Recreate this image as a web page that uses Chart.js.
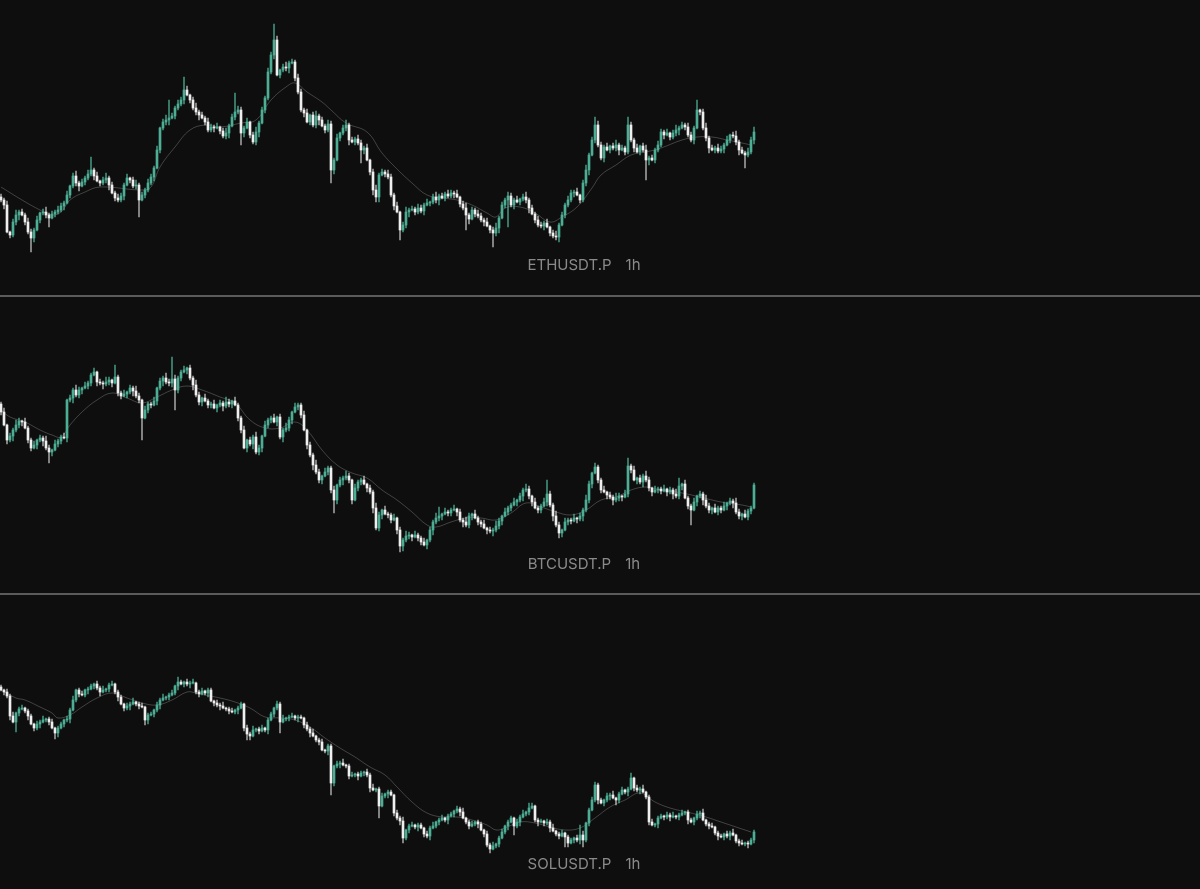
<!DOCTYPE html>
<html>
<head>
<meta charset="utf-8">
<script src="https://cdn.jsdelivr.net/npm/chart.js@4.4.1/dist/chart.umd.min.js"></script>
<style>
  html, body { margin: 0; padding: 0; background: #0e0e0e; }
  body { width: 1200px; height: 889px; position: relative; overflow: hidden; font-family: Inter, "Liberation Sans", sans-serif; }
  .pane { position: absolute; left: 0; width: 1200px; }
  .sep { position: absolute; left: 0; width: 1200px; height: 2px; background: #5b5b5b; }
  .label { position: absolute; left: 0; width: 1168px; text-align: center; color: #8a8a8a; font-size: 15px; line-height: 18px; }
  .label span { margin-left: 14px; }
</style>
</head>
<body>
<div class="pane" style="top:0;height:295px"><canvas id="eth"></canvas></div>
<div class="sep" style="top:295px"></div>
<div class="pane" style="top:297px;height:296px"><canvas id="btc"></canvas></div>
<div class="sep" style="top:593px"></div>
<div class="pane" style="top:595px;height:294px"><canvas id="sol"></canvas></div>
<div class="label" style="top:256px">ETHUSDT.P<span>1h</span></div>
<div class="label" style="top:555px">BTCUSDT.P<span>1h</span></div>
<div class="label" style="top:855px">SOLUSDT.P<span>1h</span></div>

<script>
//----------------------------ETHUSDT.P 1h
var ethOpen = [
2503,2500,2495,2468,2465,2478,2485,2488,2485,2478,
2468,2462,2470,2480,2487,2488,2485,2482,2486,2488,
2490,2494,2497,2505,2514,2524,2517,2514,2518,2522,
2526,2530,2524,2519,2517,2520,2522,2515,2507,2502,
2500,2504,2515,2522,2520,2514,2515,2500,2505,2510,
2517,2523,2532,2550,2572,2578,2580,2582,2584,2592,
2596,2600,2610,2605,2600,2592,2588,2585,2582,2578,
2570,2573,2572,2573,2569,2564,2567,2574,2583,2588,
2590,2567,2572,2578,2565,2558,2568,2577,2590,2602,
2628,2645,2660,2625,2630,2633,2632,2637,2638,2622,
2608,2590,2587,2578,2585,2575,2584,2580,2574,2570,
2576,2530,2540,2562,2567,2572,2575,2560,2558,2561,
2557,2550,2552,2540,2528,2510,2503,2525,2528,2526,
2523,2505,2494,2488,2470,2475,2488,2490,2491,2488,
2492,2489,2495,2497,2498,2503,2500,2504,2502,2506,
2504,2507,2506,2503,2496,2492,2485,2481,2490,2486,
2484,2480,2478,2474,2470,2467,2472,2482,2495,2500,
2504,2495,2500,2498,2501,2503,2500,2492,2486,2480,
2475,2474,2477,2473,2467,2464,2463,2475,2485,2495,
2500,2507,2508,2505,2500,2517,2530,2545,2560,2575,
2555,2542,2553,2550,2554,2552,2555,2550,2552,2548,
2575,2560,2552,2548,2554,2550,2540,2542,2540,2550,
2555,2568,2565,2567,2563,2567,2570,2572,2575,2573,
2565,2560,2572,2590,2588,2572,2562,2552,2550,2552,
2549,2551,2555,2560,2565,2564,2558,2550,2547,2545,
2548,2560];
var ethHigh = [
2506,2502,2499,2469,2481,2490,2490,2491,2487,2482,
2471,2472,2484,2488,2491,2493,2487,2489,2490,2494,
2497,2499,2509,2515,2527,2529,2519,2521,2524,2530,
2543,2532,2528,2520,2523,2527,2524,2518,2509,2506,
2507,2517,2526,2523,2523,2520,2517,2508,2512,2521,
2526,2534,2554,2573,2581,2585,2600,2587,2594,2600,
2603,2623,2614,2606,2603,2597,2590,2588,2584,2582,
2576,2575,2577,2574,2572,2572,2576,2586,2607,2594,
2593,2574,2582,2579,2568,2573,2579,2593,2604,2632,
2648,2676,2664,2631,2636,2638,2639,2641,2640,2626,
2611,2592,2591,2586,2588,2589,2586,2583,2576,2580,
2579,2542,2566,2568,2575,2580,2577,2563,2563,2565,
2560,2554,2556,2541,2531,2515,2527,2531,2530,2530,
2526,2507,2498,2489,2478,2493,2492,2494,2493,2496,
2495,2497,2501,2499,2506,2508,2506,2507,2508,2510,
2510,2509,2510,2504,2499,2497,2487,2493,2492,2490,
2487,2482,2482,2475,2473,2477,2484,2498,2502,2508,
2507,2502,2504,2502,2506,2508,2502,2495,2488,2484,
2478,2479,2481,2474,2470,2469,2477,2488,2497,2504,
2510,2510,2512,2506,2520,2535,2547,2563,2583,2579,
2558,2555,2557,2555,2557,2560,2557,2555,2554,2583,
2578,2562,2556,2555,2557,2555,2544,2545,2552,2559,
2571,2570,2571,2568,2570,2575,2574,2578,2577,2577,
2568,2574,2600,2591,2591,2577,2564,2555,2554,2556,
2554,2557,2564,2566,2568,2569,2560,2553,2549,2552,
2563,2573];
var ethLow = [
2498,2491,2467,2462,2463,2475,2480,2484,2475,2466,
2448,2458,2469,2477,2485,2482,2473,2481,2483,2486,
2488,2490,2496,2502,2512,2514,2509,2513,2515,2520,
2524,2520,2518,2514,2515,2517,2510,2506,2499,2498,
2498,2500,2514,2517,2512,2511,2483,2499,2502,2508,
2515,2519,2531,2547,2570,2575,2575,2581,2581,2590,
2594,2596,2604,2597,2590,2585,2580,2581,2575,2568,
2568,2568,2571,2566,2562,2561,2562,2573,2580,2586,
2555,2563,2571,2562,2556,2555,2563,2576,2587,2600,
2626,2641,2624,2622,2628,2629,2627,2636,2619,2606,
2588,2583,2577,2575,2573,2572,2575,2573,2567,2568,
2517,2526,2539,2559,2565,2569,2555,2557,2555,2555,
2537,2546,2539,2525,2505,2498,2498,2524,2523,2521,
2503,2490,2487,2460,2468,2472,2483,2489,2485,2486,
2487,2485,2494,2494,2496,2497,2495,2501,2499,2502,
2502,2502,2502,2493,2490,2470,2476,2480,2483,2482,
2478,2474,2473,2467,2453,2464,2467,2481,2492,2473,
2493,2491,2497,2495,2499,2497,2487,2485,2477,2473,
2472,2470,2472,2464,2462,2460,2458,2474,2482,2493,
2498,2503,2504,2497,2498,2514,2525,2544,2557,2553,
2540,2538,2549,2547,2550,2549,2545,2549,2545,2546,
2558,2548,2547,2545,2548,2520,2535,2539,2537,2548,
2553,2561,2564,2560,2561,2564,2565,2571,2570,2563,
2558,2556,2571,2585,2570,2559,2547,2549,2547,2547,
2547,2547,2554,2557,2562,2555,2545,2546,2532,2543,
2546,2556];
var ethClose = [
2500,2495,2468,2465,2478,2485,2488,2485,2478,2468,
2462,2470,2480,2487,2488,2485,2482,2486,2488,2490,
2494,2497,2505,2514,2524,2517,2514,2518,2522,2526,
2530,2524,2519,2517,2520,2522,2515,2507,2502,2500,
2504,2515,2522,2520,2514,2515,2500,2505,2510,2517,
2523,2532,2550,2572,2578,2580,2582,2584,2592,2596,
2600,2610,2605,2600,2592,2588,2585,2582,2578,2570,
2573,2572,2573,2569,2564,2567,2574,2583,2588,2590,
2567,2572,2578,2565,2558,2568,2577,2590,2602,2628,
2645,2660,2625,2630,2633,2632,2637,2638,2622,2608,
2590,2587,2578,2585,2575,2584,2580,2574,2570,2576,
2530,2540,2562,2567,2572,2575,2560,2558,2561,2557,
2550,2552,2540,2528,2510,2503,2525,2528,2526,2523,
2505,2494,2488,2470,2475,2488,2490,2491,2488,2492,
2489,2495,2497,2498,2503,2500,2504,2502,2506,2504,
2507,2506,2503,2496,2492,2485,2481,2490,2486,2484,
2480,2478,2474,2470,2467,2472,2482,2495,2500,2504,
2495,2500,2498,2501,2503,2500,2492,2486,2480,2475,
2474,2477,2473,2467,2464,2463,2475,2485,2495,2500,
2507,2508,2505,2500,2517,2530,2545,2560,2575,2555,
2542,2553,2550,2554,2552,2555,2550,2552,2548,2575,
2560,2552,2548,2554,2550,2540,2542,2540,2550,2555,
2568,2565,2567,2563,2567,2570,2572,2575,2573,2565,
2560,2572,2590,2588,2572,2562,2552,2550,2552,2549,
2551,2555,2560,2565,2564,2558,2550,2547,2545,2548,
2560,2568];
var ethMaIdx = [0,7,13,17,20,23,28,33,47,50,53,58,63,68,73,80,85,90,95,98,102,107,110,115,122,127,132,137,142,147,152,157,162,165,168,173,178,183,187,192,197,200,205,210,215,220,227,232,237,242,247,250];
var ethMaVal = [2513,2500,2490,2485,2488,2500,2508,2513,2510,2513,2533,2553,2570,2575,2573,2577,2580,2600,2613,2617,2608,2598,2590,2577,2568,2547,2531,2517,2505,2502,2500,2495,2487,2483,2492,2493,2487,2478,2483,2493,2512,2525,2535,2545,2548,2552,2560,2563,2563,2560,2557,2555];

//----------------------------BTCUSDT.P 1h
var btcOpen = [
65560,65480,65350,65200,65240,65300,65350,65390,65380,65320,
65200,65120,65150,65200,65220,65190,65120,65080,65100,65160,
65190,65230,65220,65600,65620,65700,65650,65700,65720,65740,
65770,65850,65880,65780,65770,65760,65780,65800,65770,65830,
65670,65640,65660,65680,65720,65690,65640,65600,65420,65500,
65560,65550,65590,65720,65790,65820,65780,65770,65810,65700,
65820,65880,65900,65920,65820,65750,65650,65580,65620,65590,
65550,65560,65520,65550,65570,65540,65580,65560,65590,65550,
65420,65300,65120,65200,65160,65230,65080,65120,65240,65350,
65400,65420,65380,65430,65230,65300,65320,65400,65480,65530,
65550,65450,65300,65150,65050,64950,64880,64800,64840,64880,
64920,64700,64600,64750,64800,64820,64840,64800,64600,64720,
64780,64800,64760,64720,64680,64520,64320,64450,64500,64460,
64450,64400,64420,64300,64140,64200,64240,64250,64230,64250,
64220,64180,64150,64200,64300,64380,64420,64440,64460,64480,
64470,64500,64510,64480,64400,64380,64350,64440,64460,64420,
64380,64360,64320,64300,64290,64300,64340,64390,64440,64480,
64520,64550,64580,64600,64640,64700,64710,64640,64580,64520,
64500,64540,64580,64660,64550,64440,64350,64270,64300,64380,
64400,64390,64420,64410,64440,64500,64600,64760,64870,64930,
64800,64700,64680,64650,64630,64600,64620,64640,64630,64660,
64940,64900,64800,64820,64780,64840,64800,64720,64680,64700,
64710,64690,64710,64680,64700,64660,64640,64740,64760,64620,
64540,64500,64580,64640,64660,64600,64540,64500,64520,64480,
64520,64500,64540,64570,64590,64570,64480,64440,64460,64430,
64490,64520];
var btcHigh = [
65580,65520,65360,65270,65320,65400,65420,65400,65420,65340,
65220,65190,65210,65250,65240,65240,65150,65110,65200,65210,
65250,65270,65610,65650,65720,65750,65730,65730,65780,65790,
65870,65920,65890,65810,65790,65830,65830,65810,65950,65850,
65690,65700,65690,65750,65740,65740,65670,65610,65540,65580,
65580,65630,65730,65820,65840,65870,65810,66030,65850,65840,
65900,65940,65930,65950,65840,65800,65680,65630,65660,65610,
65580,65600,65560,65600,65590,65630,65610,65600,65630,65570,
65440,65340,65210,65230,65250,65280,65150,65250,65390,65420,
65440,65460,65440,65460,65320,65370,65430,65490,65570,65570,
65570,65490,65310,65180,65070,65000,64910,64850,64920,64940,
64940,64740,64760,64830,64840,64890,64870,64810,64760,64800,
64820,64840,64770,64750,64700,64570,64480,64510,64540,64480,
64470,64460,64430,64330,64220,64290,64280,64260,64290,64270,
64240,64220,64210,64330,64400,64470,64530,64470,64520,64500,
64520,64550,64520,64510,64420,64430,64470,64470,64500,64440,
64400,64400,64330,64330,64320,64390,64420,64450,64520,64540,
64570,64620,64610,64670,64720,64760,64740,64650,64620,64540,
64560,64620,64800,64690,64570,64490,64380,64310,64420,64420,
64420,64460,64430,64470,64520,64650,64790,64880,64970,64950,
64820,64740,64690,64680,64650,64670,64670,64650,64700,65020,
64960,64940,64830,64850,64860,64890,64830,64730,64740,64730,
64730,64750,64720,64730,64720,64710,64820,64770,64800,64640,
64560,64620,64650,64690,64680,64650,64570,64530,64560,64540,
64540,64580,64580,64620,64610,64620,64510,64470,64500,64510,
64540,64770];
var btcLow = [
65450,65340,65160,65180,65190,65280,65320,65340,65310,65170,
65090,65110,65110,65180,65140,65100,64970,65040,65090,65130,
65160,65210,65180,65580,65570,65630,65620,65660,65710,65710,
65740,65840,65740,65750,65710,65740,65750,65730,65760,65640,
65610,65630,65620,65660,65640,65620,65570,65200,65410,65470,
65520,65540,65550,65700,65740,65760,65740,65730,65500,65670,
65790,65870,65860,65800,65700,65630,65550,65540,65580,65520,
65520,65510,65480,65530,65490,65520,65530,65520,65540,65390,
65270,65110,65080,65140,65110,65060,65050,65080,65230,65320,
65370,65370,65340,65210,65180,65280,65290,65360,65470,65500,
65420,65290,65110,65030,64900,64860,64770,64760,64830,64850,
64670,64470,64560,64730,64750,64800,64770,64560,64590,64690,
64750,64750,64680,64660,64470,64300,64290,64410,64450,64420,
64370,64390,64260,64080,64090,64180,64210,64190,64220,64190,
64150,64140,64110,64180,64250,64360,64390,64400,64450,64440,
64440,64490,64440,64380,64330,64330,64320,64400,64410,64350,
64330,64310,64260,64270,64240,64280,64310,64350,64430,64450,
64490,64540,64540,64580,64590,64680,64610,64540,64510,64470,
64470,64530,64540,64530,64390,64330,64220,64230,64290,64350,
64360,64380,64370,64390,64390,64480,64570,64720,64860,64770,
64670,64670,64610,64610,64550,64580,64590,64590,64620,64630,
64870,64790,64760,64760,64730,64780,64690,64640,64670,64670,
64660,64680,64640,64660,64610,64620,64610,64700,64610,64510,
64350,64490,64540,64620,64550,64520,64470,64460,64470,64450,
64470,64490,64500,64550,64520,64460,64410,64400,64420,64400,
64460,64510];
var btcClose = [
65480,65350,65200,65240,65300,65350,65390,65380,65320,65200,
65120,65150,65200,65220,65190,65120,65080,65100,65160,65190,
65230,65220,65600,65620,65700,65650,65700,65720,65740,65770,
65850,65880,65780,65770,65760,65780,65800,65770,65830,65670,
65640,65660,65680,65720,65690,65640,65600,65420,65500,65560,
65550,65590,65720,65790,65820,65780,65770,65810,65700,65820,
65880,65900,65920,65820,65750,65650,65580,65620,65590,65550,
65560,65520,65550,65570,65540,65580,65560,65590,65550,65420,
65300,65120,65200,65160,65230,65080,65120,65240,65350,65400,
65420,65380,65430,65230,65300,65320,65400,65480,65530,65550,
65450,65300,65150,65050,64950,64880,64800,64840,64880,64920,
64700,64600,64750,64800,64820,64840,64800,64600,64720,64780,
64800,64760,64720,64680,64520,64320,64450,64500,64460,64450,
64400,64420,64300,64140,64200,64240,64250,64230,64250,64220,
64180,64150,64200,64300,64380,64420,64440,64460,64480,64470,
64500,64510,64480,64400,64380,64350,64440,64460,64420,64380,
64360,64320,64300,64290,64300,64340,64390,64440,64480,64520,
64550,64580,64600,64640,64700,64710,64640,64580,64520,64500,
64540,64580,64660,64550,64440,64350,64270,64300,64380,64400,
64390,64420,64410,64440,64500,64600,64760,64870,64930,64800,
64700,64680,64650,64630,64600,64620,64640,64630,64660,64940,
64900,64800,64820,64780,64840,64800,64720,64680,64700,64710,
64690,64710,64680,64700,64660,64640,64740,64760,64620,64540,
64500,64580,64640,64660,64600,64540,64500,64520,64480,64520,
64500,64540,64570,64590,64570,64480,64440,64460,64430,64490,
64520,64750];
var btcMaIdx = [0,3,8,13,17,20,23,27,32,37,42,47,52,57,62,67,73,78,83,88,93,98,102,107,112,117,122,127,132,137,142,145,150,155,160,165,170,175,180,185,190,195,200,205,210,215,220,227,233,240,247,250];
var btcMaVal = [65500,65430,65380,65300,65250,65230,65350,65480,65600,65670,65620,65570,65630,65700,65740,65700,65630,65570,65400,65320,65320,65380,65300,65100,64950,64870,64820,64700,64600,64480,64350,64330,64380,64420,64420,64400,64470,64570,64530,64480,64450,64500,64600,64630,64700,64730,64700,64670,64630,64580,64550,64530];

//----------------------------SOLUSDT.P 1h
var solOpen = [
146.3,146.0,145.8,145.4,143.4,142.8,143.7,144.1,144.2,143.9,
143.4,142.6,142.2,142.6,142.8,143.0,143.1,142.8,142.2,141.7,
142.2,142.6,143.0,143.1,144.0,145.0,146.0,145.6,145.5,146.0,
146.1,146.4,146.6,146.2,145.8,146.0,146.1,146.5,146.6,145.8,
145.3,144.6,144.2,144.4,144.6,144.8,144.6,144.4,144.3,143.0,
143.5,143.6,144.0,144.5,145.0,145.2,145.3,145.5,145.7,146.4,
146.8,146.6,146.8,146.6,146.7,146.7,145.8,145.6,145.9,145.7,
146.0,144.9,144.7,144.5,144.4,144.2,144.1,143.9,143.8,144.0,
144.2,144.6,142.2,141.6,141.4,142.0,142.1,141.9,142.2,142.0,
143.0,143.6,144.2,144.6,142.8,143.1,143.2,143.3,143.4,143.2,
143.3,143.2,142.5,142.1,141.7,141.4,141.0,140.8,140.0,139.9,
140.4,136.7,138.4,138.6,138.7,138.5,138.4,137.4,137.5,137.6,
137.4,137.7,137.8,137.5,136.2,136.0,136.1,134.4,135.4,135.6,
135.8,135.5,133.7,133.2,132.9,131.2,132.0,132.4,132.5,132.3,
132.5,132.2,131.6,131.4,132.2,132.4,132.8,133.0,133.2,133.0,
133.4,133.6,133.9,134.1,133.8,133.2,132.8,132.4,132.6,132.8,
132.6,132.0,131.6,130.5,130.1,130.4,130.6,131.2,131.8,132.4,
132.8,133.2,132.4,132.8,133.3,133.6,133.8,134.2,134.4,133.0,
132.8,132.9,132.7,132.8,132.2,131.9,131.6,131.4,131.7,131.3,
130.7,131.0,131.2,131.0,131.5,131.0,132.7,134.0,135.0,136.5,
135.0,134.7,135.0,135.4,135.5,135.2,135.0,135.6,136.0,135.8,
136.1,137.2,136.2,136.0,136.1,135.8,135.3,132.8,132.5,132.6,
133.2,133.4,133.3,133.5,133.3,133.4,133.3,133.5,133.7,133.8,
133.0,132.8,133.2,133.6,133.7,133.0,132.6,132.4,132.3,131.7,
131.4,131.3,131.6,131.4,131.7,131.5,130.9,130.7,130.6,130.7,
130.6,131.0];
var solHigh = [
146.5,146.1,146.1,145.6,143.8,143.8,144.3,144.5,144.3,144.1,
143.6,142.7,142.9,143.0,143.4,143.2,143.3,143.1,142.3,142.4,
142.8,143.1,143.4,144.2,145.4,146.1,146.2,145.9,146.1,146.3,
146.6,146.7,146.9,146.4,146.4,146.2,146.7,146.9,146.7,146.0,
145.5,144.7,144.7,144.8,145.2,144.9,144.8,144.7,144.4,143.7,
143.8,144.1,144.8,145.2,145.6,145.4,145.7,146.0,146.5,147.3,
147.0,146.9,147.1,146.9,147.1,146.8,146.0,146.2,146.0,146.2,
146.2,145.0,145.0,144.7,144.8,144.3,144.3,144.2,144.1,144.4,
144.8,144.7,142.5,141.8,142.4,142.2,142.3,142.5,142.3,143.2,
143.8,144.3,144.9,144.8,143.5,143.3,143.5,143.7,143.5,143.5,
143.5,143.3,142.8,142.3,142.1,141.5,141.2,141.1,140.1,140.6,
140.6,138.5,138.9,138.9,139.1,138.6,138.6,137.8,137.7,137.8,
137.9,137.9,138.1,137.7,136.6,136.2,136.3,135.7,135.7,136.0,
136.0,135.6,134.0,133.4,133.3,132.1,132.6,132.8,132.6,132.7,
132.7,132.3,131.9,132.4,132.8,132.9,133.2,133.5,133.3,133.6,
133.8,134.0,134.4,134.3,134.2,133.3,133.0,132.9,132.9,133.0,
132.8,132.1,131.9,130.7,130.8,130.7,131.4,132.1,132.5,133.0,
133.4,133.3,133.1,133.5,134.0,133.9,134.7,134.7,134.5,133.2,
133.1,133.0,133.1,133.0,132.6,132.0,131.8,132.0,131.8,131.5,
131.2,131.3,131.5,132.5,131.9,132.8,134.2,135.3,136.8,136.7,
135.2,135.1,135.7,135.7,135.9,135.3,135.8,136.3,136.1,136.3,
137.7,137.3,136.5,136.3,136.5,135.9,135.5,133.1,132.7,133.4,
133.6,133.5,133.8,133.7,133.8,133.5,133.7,134.0,133.9,134.0,
133.2,133.3,133.9,133.9,134.1,133.1,132.8,132.7,132.4,131.9,
131.6,131.7,131.9,131.9,132.1,131.6,131.1,131.0,130.8,130.9,
131.2,132.0];
var solLow = [
145.9,145.5,145.2,143.0,142.7,141.8,143.4,144.0,143.7,143.0,
142.5,141.9,142.0,142.2,142.7,142.8,142.5,142.1,141.1,141.3,
142.1,142.3,142.8,142.7,143.9,144.8,145.3,145.4,145.3,145.6,
146.0,146.1,146.0,145.4,145.7,145.8,145.8,146.4,145.6,144.9,
144.5,143.9,144.0,144.0,144.5,144.4,144.1,144.2,142.5,142.6,
143.4,143.3,143.8,144.1,144.9,145.0,145.0,145.4,145.5,146.0,
146.5,146.3,146.4,146.2,146.6,145.6,145.3,145.5,145.5,145.3,
144.8,144.4,144.3,144.0,144.1,143.9,143.6,143.7,143.6,143.6,
144.1,141.9,141.0,141.0,141.3,141.8,141.6,141.8,141.8,141.6,
142.9,143.3,144.0,141.7,142.7,142.9,142.9,143.2,143.0,142.8,
143.1,142.2,141.9,141.3,141.3,140.8,140.5,139.9,139.7,139.5,
135.5,136.4,138.2,138.2,138.4,138.2,137.1,137.3,137.3,137.0,
137.3,137.4,137.3,135.8,135.9,135.8,133.2,134.3,135.2,135.2,
135.4,133.4,133.0,132.5,130.7,131.0,131.7,132.3,132.1,131.9,
132.1,131.3,131.2,131.0,132.1,132.2,132.5,132.9,132.8,132.6,
133.3,133.3,133.7,133.4,133.1,132.6,132.1,132.3,132.4,132.2,
131.9,131.3,130.3,129.7,130.0,130.2,130.3,131.1,131.6,132.0,
132.7,131.5,132.2,132.4,133.2,133.4,133.5,134.1,132.8,132.4,
132.7,132.4,132.5,131.8,131.8,131.4,131.1,131.3,130.3,130.3,
130.6,130.7,130.8,130.6,130.3,130.8,132.4,133.9,134.8,134.6,
134.6,134.4,134.8,135.0,135.1,134.5,134.7,135.5,135.6,135.4,
136.0,135.9,135.8,135.6,135.7,135.1,132.5,132.4,132.3,132.2,
133.1,133.0,133.1,132.9,133.2,133.1,133.0,133.4,133.5,132.6,
132.7,132.5,133.0,133.2,132.9,132.4,132.1,132.2,131.5,131.0,
131.2,131.0,131.2,131.0,131.4,130.7,130.4,130.5,130.4,130.2,
130.5,130.7];
var solClose = [
146.0,145.8,145.4,143.4,142.8,143.7,144.1,144.2,143.9,143.4,
142.6,142.2,142.6,142.8,143.0,143.1,142.8,142.2,141.7,142.2,
142.6,143.0,143.1,144.0,145.0,146.0,145.6,145.5,146.0,146.1,
146.4,146.6,146.2,145.8,146.0,146.1,146.5,146.6,145.8,145.3,
144.6,144.2,144.4,144.6,144.8,144.6,144.4,144.3,143.0,143.5,
143.6,144.0,144.5,145.0,145.2,145.3,145.5,145.7,146.4,146.8,
146.6,146.8,146.6,146.7,146.7,145.8,145.6,145.9,145.7,146.0,
144.9,144.7,144.5,144.4,144.2,144.1,143.9,143.8,144.0,144.2,
144.6,142.2,141.6,141.4,142.0,142.1,141.9,142.2,142.0,143.0,
143.6,144.2,144.6,142.8,143.1,143.2,143.3,143.4,143.2,143.3,
143.2,142.5,142.1,141.7,141.4,141.0,140.8,140.0,139.9,140.4,
136.7,138.4,138.6,138.7,138.5,138.4,137.4,137.5,137.6,137.4,
137.7,137.8,137.5,136.2,136.0,136.1,134.4,135.4,135.6,135.8,
135.5,133.7,133.2,132.9,131.2,132.0,132.4,132.5,132.3,132.5,
132.2,131.6,131.4,132.2,132.4,132.8,133.0,133.2,133.0,133.4,
133.6,133.9,134.1,133.8,133.2,132.8,132.4,132.6,132.8,132.6,
132.0,131.6,130.5,130.1,130.4,130.6,131.2,131.8,132.4,132.8,
133.2,132.4,132.8,133.3,133.6,133.8,134.2,134.4,133.0,132.8,
132.9,132.7,132.8,132.2,131.9,131.6,131.4,131.7,131.3,130.7,
131.0,131.2,131.0,131.5,131.0,132.7,134.0,135.0,136.5,135.0,
134.7,135.0,135.4,135.5,135.2,135.0,135.6,136.0,135.8,136.1,
137.2,136.2,136.0,136.1,135.8,135.3,132.8,132.5,132.6,133.2,
133.4,133.3,133.5,133.3,133.4,133.3,133.5,133.7,133.8,133.0,
132.8,133.2,133.6,133.7,133.0,132.6,132.4,132.3,131.7,131.4,
131.3,131.6,131.4,131.7,131.5,130.9,130.7,130.6,130.7,130.6,
131.0,131.8];
var solMaIdx = [0,5,8,13,17,19,23,27,32,37,42,47,52,57,62,65,68,73,78,83,88,93,98,103,108,113,118,123,128,132,137,142,147,152,157,162,165,168,173,178,183,188,193,198,203,208,213,218,223,230,235,240,245,250];
var solMaVal = [146.0,145.2,145.0,144.3,143.7,143.2,143.5,144.3,145.2,145.7,145.2,144.7,144.5,145.0,145.8,145.7,145.5,145.2,144.8,144.2,143.3,143.2,143.0,142.3,141.2,140.2,139.3,138.3,137.5,136.3,134.8,133.7,133.3,133.3,133.0,132.5,132.0,132.2,132.8,132.7,132.3,132.0,132.2,133.2,134.3,135.0,135.7,134.8,134.2,133.7,133.3,132.8,132.3,131.8];

//----------------------------Styles
var upColor = "#4cae94";
var downColor = "#efefef";
var upWick = "rgba(76,174,148,0.8)";
var downWick = "rgba(215,215,215,0.7)";
var maColor = "rgba(255,255,255,0.22)";

function candleChart(id, open, high, low, close, maIdx, maVal, yMin, yMax) {
    var bodies = [], wicks = [], bodyColors = [], wickColors = [];
    for (var i = 0; i < close.length; i++) {
        var up = close[i] >= open[i];
        bodies.push({x: i, y: [open[i], close[i]]});
        wicks.push({x: i, y: [low[i], high[i]]});
        bodyColors.push(up ? upColor : downColor);
        wickColors.push(up ? upWick : downWick);
    }
    var ma = maIdx.map(function (x, k) { return {x: x, y: maVal[k]}; });

    return new Chart(document.getElementById(id), {
        type: "bar",
        data: {
            datasets: [
                {type: "line", data: ma, borderColor: maColor, borderWidth: 1, pointRadius: 0, tension: 0.4, order: 3},
                {data: wicks, backgroundColor: wickColors, barThickness: 1, minBarLength: 1, grouped: false, order: 2},
                {data: bodies, backgroundColor: bodyColors, barThickness: 2, minBarLength: 1, grouped: false, order: 1}
            ]
        },
        options: {
            responsive: true,
            maintainAspectRatio: false,
            animation: false,
            layout: {padding: 0},
            plugins: {legend: {display: false}, tooltip: {enabled: false}},
            scales: {
                x: {type: "linear", min: -1 / 3, max: 400 - 1 / 3, offset: false, display: false},
                y: {min: yMin, max: yMax, display: false}
            }
        }
    });
}

//----------------------------Onload
candleChart("eth", ethOpen, ethHigh, ethLow, ethClose, ethMaIdx, ethMaVal, 2405, 2700);
candleChart("btc", btcOpen, btcHigh, btcLow, btcClose, btcMaIdx, btcMaVal, 63670, 66630);
candleChart("sol", solOpen, solHigh, solLow, solClose, solMaIdx, solMaVal, 126.1, 155.5);
</script>
</body>
</html>
